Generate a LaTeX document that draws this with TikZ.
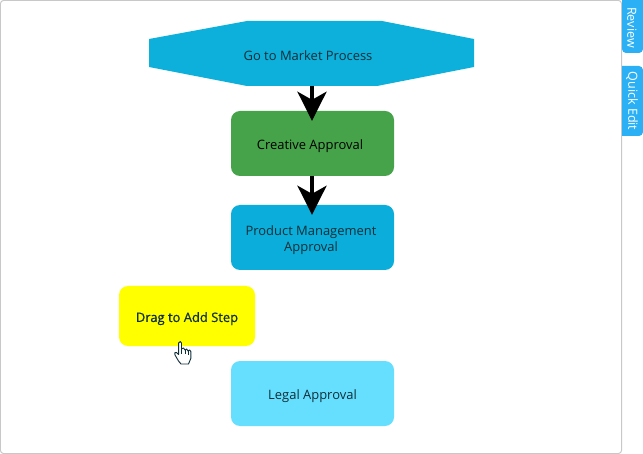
\documentclass[tikz,border=0pt]{standalone}
\usepackage{fontspec}
\setmainfont{Open Sans}
\usetikzlibrary{arrows.meta}
\definecolor{octblue}{RGB}{13,176,218}
\definecolor{prodblue}{RGB}{11,174,218}
\definecolor{okgreen}{RGB}{70,163,73}
\definecolor{legalblue}{RGB}{102,223,255}
\definecolor{tabblue}{RGB}{43,176,245}
\definecolor{framegray}{RGB}{200,200,200}
\definecolor{inkdark}{RGB}{14,46,56}
\definecolor{dragyellow}{RGB}{255,255,0}
\newcommand{\dnstrut}{\rule{0pt}{15bp}}
\tikzset{
  x=1bp,y=-1bp,
  stepbox/.style={rounded corners=9bp,minimum width=163bp,minimum height=65bp,inner sep=0pt,align=center,text=inkdark,font=\fontsize{13}{15.5}\selectfont},
  flow/.style={line width=4bp,-{Stealth[length=29bp,width=29bp,inset=8bp]},shorten >=-10bp,transform canvas={xshift=-0.5bp}},
  tablabel/.style={text=white,rotate=-90,font=\fontsize{12.6}{14}\selectfont,inner sep=0pt}
}
\begin{document}
\begin{tikzpicture}
\useasboundingbox (0,0) rectangle (643,454);
\fill[white] (0,0) rectangle (643,454);
\draw[framegray,line width=1bp,rounded corners=3bp] (0.5,0.5) rectangle (621.5,453.5);
% tabs
\fill[tabblue] (622,0) -- (643,0) [rounded corners=4bp] -- (643,53) -- (622,53) [sharp corners] -- (622,0) -- cycle;
\fill[tabblue] (622,66) [rounded corners=4bp] -- (643,66) -- (643,136) [sharp corners] -- (622,136) -- cycle;
\node[tablabel] (rev) at (632,27.5) {Review};
\node[tablabel] (qe) at (632,101) {Quick Edit};
% octagon
\fill[octblue] (149,39) -- (247,21) -- (382,21) -- (474,39) -- (474,67) -- (377,86) -- (247,86) -- (149,67) -- cycle;
\node[stepbox,minimum width=325bp,rounded corners=0pt] (gtm) at (311.5,53.5) {\dnstrut\hspace{-7bp}Go to Market Process};
\node[stepbox,fill=okgreen,text=black] (cre) at (312.5,143.5) {\dnstrut\hspace{-5bp}Creative Approval};
\node[stepbox,fill=prodblue] (prod) at (312.5,237.5) {\dnstrut\hspace{-3bp}Product Management\\\hspace{-3bp}Approval};
\node[stepbox,fill=dragyellow,minimum width=136bp,minimum height=60bp,font=\fontsize{13}{15}\selectfont\addfontfeature{FakeBold=0.5}] (drag) at (187,316) {\dnstrut Drag to Add Step};
\node[stepbox,fill=legalblue] (legal) at (312.5,393.5) {\dnstrut Legal Approval};
% connectors
\draw[flow] (gtm.south -| cre.north) -- (cre.north);
\draw[flow] (cre.south) -- (prod.north);
% hand cursor
\draw[fill=white,draw=inkdark,line width=0.9bp,line join=round]
 (181.5,343) .. controls (181.5,341) and (179,341) .. (178.6,343)
 -- (178.6,354.5) -- (176.5,352.5) .. controls (175,351.5) and (173.8,353.3) .. (175,355)
 -- (178.5,361) -- (181,364) -- (188.5,364) -- (190.8,358.5) -- (190.8,351.5)
 .. controls (190.8,349.5) and (188.5,349.5) .. (188,351)
 .. controls (188,348.5) and (185.5,348.5) .. (185,350)
 .. controls (185,347.5) and (182,347.5) .. (181.5,349) -- cycle;
\draw[inkdark,line width=0.5bp] (181.5,349) -- (181.5,354) (185,350) -- (185,354) (188,351) -- (188,354.5);
\end{tikzpicture}
\end{document}
